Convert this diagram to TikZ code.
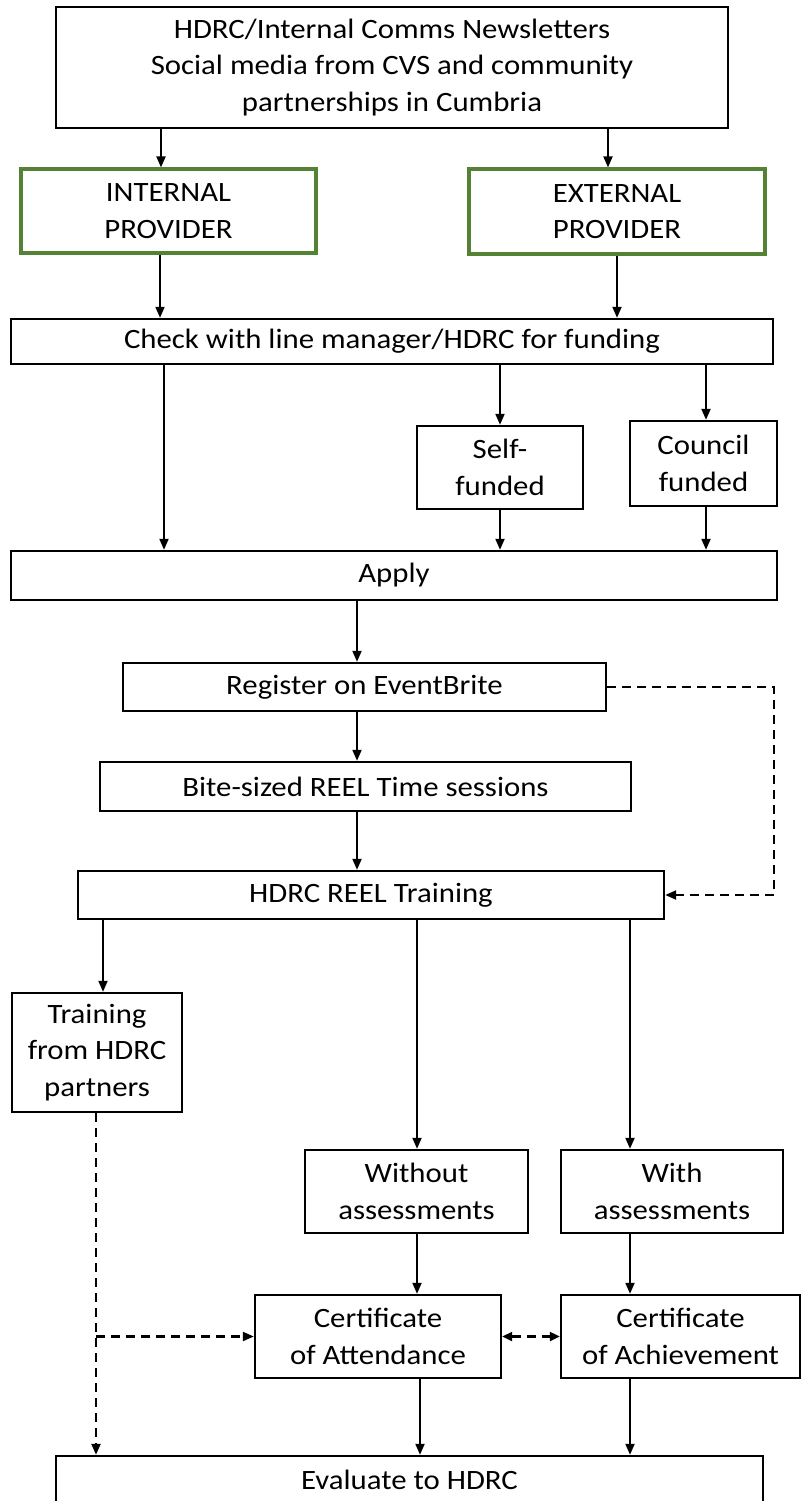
\documentclass[tikz,border=0pt]{standalone}
\usepackage{fontspec}
\setmainfont{Carlito}[FakeStretch=1.1]
\usetikzlibrary{arrows.meta,calc}
\definecolor{boxgreen}{RGB}{84,130,53}
\tikzset{
  box/.style={draw=black, line width=2.4pt, inner sep=0pt, align=center,
    font=\fontsize{28}{36.5}\selectfont},
  gbox/.style={box, draw=boxgreen, line width=3.2pt},
  arr/.style={line width=2pt, -{Triangle[length=11pt,width=9pt]}},
  darr/.style={arr, line width=2.2pt, dash pattern=on 9pt off 6pt},
  dline/.style={line width=2.2pt, dash pattern=on 9pt off 6pt},
  ddarr/.style={line width=2.2pt, dash pattern=on 9pt off 6pt, {Triangle[length=10pt,width=9pt]}-{Triangle[length=10pt,width=9pt]}}
}
\begin{document}
\begin{tikzpicture}[x=1pt,y=-1pt]
\useasboundingbox (0,0) rectangle (801,1501);
% nodes
\node[box, minimum width=672pt, minimum height=121pt] (top) at (392,67.5)
  {HDRC/Internal Comms Newsletters\\Social media from CVS and community\\partnerships in Cumbria};
\node[gbox, minimum width=295pt, minimum height=84pt] (int) at (168.5,211) {INTERNAL\\PROVIDER};
\node[gbox, minimum width=296pt, minimum height=85pt] (ext) at (617,211.5) {EXTERNAL\\PROVIDER};
\node[box, minimum width=762pt, minimum height=45pt] (check) at (392,341.5) {Check with line manager/HDRC for funding};
\node[box, minimum width=166pt, minimum height=83pt] (self) at (500,467.5) {Self-\\funded};
\node[box, minimum width=147pt, minimum height=85pt] (council) at (703.5,463.5) {Council\\funded};
\node[box, minimum width=766pt, minimum height=49pt] (apply) at (394,575.5) {Apply};
\node[box, minimum width=483pt, minimum height=48pt] (reg) at (364.5,687) {Register on EventBrite};
\node[box, minimum width=531pt, minimum height=49pt] (bite) at (365.5,786.5) {Bite-sized REEL Time sessions};
\node[box, minimum width=586pt, minimum height=48pt] (hdrc) at (371,895) {HDRC REEL Training};
\node[box, minimum width=170pt, minimum height=119pt] (train) at (97,1052.5) {Training\\from HDRC\\partners};
\node[box, minimum width=223pt, minimum height=83pt] (without) at (416.5,1191.5) {Without\\assessments};
\node[box, minimum width=222pt, minimum height=83pt] (with) at (672,1191.5) {With\\assessments};
\node[box, minimum width=246pt, minimum height=83pt] (att) at (378,1336.5) {Certificate\\of Attendance};
\node[box, minimum width=239pt, minimum height=83pt] (ach) at (680.5,1336.5) {Certificate\\of Achievement};
\node[box, minimum width=707pt, minimum height=48pt] (eval) at (409.5,1480) {Evaluate to HDRC};
% x positions
\coordinate (xa) at (161,0);
\coordinate (xb) at (608,0);
\coordinate (xc) at (160,0);
\coordinate (xd) at (617,0);
\coordinate (xe) at (164,0);
\coordinate (xf) at (500,0);
\coordinate (xg) at (706,0);
\coordinate (xh) at (357,0);
\coordinate (xi) at (103,0);
\coordinate (xj) at (417,0);
\coordinate (xk) at (630,0);
\coordinate (xl) at (420,0);
\coordinate (xm) at (96,0);
\coordinate (xn) at (774,0);
% connectors
\draw[arr] (top.south -| xa) -- (int.north -| xa);
\draw[arr] (top.south -| xb) -- (ext.north -| xb);
\draw[arr] (int.south -| xc) -- (check.north -| xc);
\draw[arr] (ext.south -| xd) -- (check.north -| xd);
\draw[arr] (check.south -| xe) -- (apply.north -| xe);
\draw[arr] (check.south -| xf) -- (self.north -| xf);
\draw[arr] (self.south -| xf) -- (apply.north -| xf);
\draw[arr] (check.south -| xg) -- (council.north -| xg);
\draw[arr] (council.south -| xg) -- (apply.north -| xg);
\draw[arr] (apply.south -| xh) -- (reg.north -| xh);
\draw[arr] (reg.south -| xh) -- (bite.north -| xh);
\draw[arr] (bite.south -| xh) -- (hdrc.north -| xh);
\draw[dline] (reg.east) -| (xn |- hdrc.east) coordinate (rc);
\draw[darr] (rc) -- (hdrc.east);
\draw[arr] (hdrc.south -| xi) -- (train.north -| xi);
\draw[arr] (hdrc.south -| xj) -- (without.north -| xj);
\draw[arr] (hdrc.south -| xk) -- (with.north -| xk);
\draw[arr] (without.south -| xj) -- (att.north -| xj);
\draw[arr] (with.south -| xk) -- (ach.north -| xk);
\draw[arr] (att.south -| xl) -- (eval.north -| xl);
\draw[arr] (ach.south -| xk) -- (eval.north -| xk);
\draw[darr] (train.south -| xm) -- (eval.north -| xm);
\draw[darr] (xm |- att.west) -- (att.west);
\draw[ddarr] (att.east) -- (ach.west);
\end{tikzpicture}
\end{document}
